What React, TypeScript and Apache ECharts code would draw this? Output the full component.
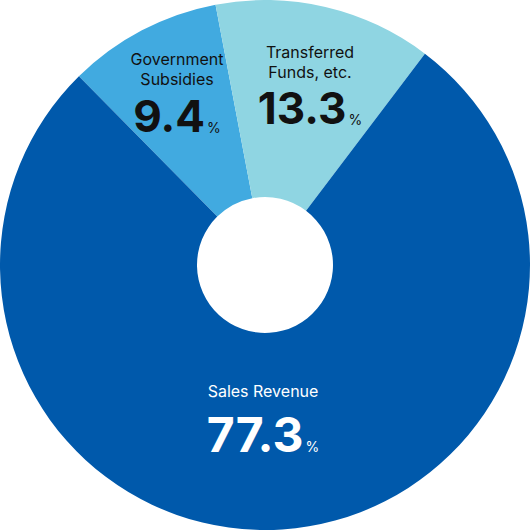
import React, { useEffect, useRef } from "react";
import * as echarts from "echarts";

// Revenue composition (%)
const categories = ["Government\nSubsidies", "Transferred\nFunds, etc.", "Sales Revenue"];
const shares = [9.4, 13.3, 77.3];
const sliceColors = ["#41aae0", "#8fd5e2", "#0059ab"];

// Centre of each label block, in chart pixels
const labelCenters: [number, number][] = [
  [177, 96],
  [310, 88],
  [263, 424],
];

export default function App() {
  const ref = useRef<HTMLDivElement>(null);

  useEffect(() => {
    if (!ref.current) return;
    const chart = echarts.init(ref.current, undefined, { renderer: "svg" });

    const data = categories.map((name, i) => {
      const isMain = i === 2;
      const nameStyle = {
        fontFamily: "Inter",
        fontSize: 16,
        lineHeight: 20,
        color: isMain ? "#ffffff" : "#111111",
      };
      return {
        name,
        value: shares[i],
        itemStyle: { color: sliceColors[i] },
        label: {
          rich: {
            n: nameStyle,
            v: {
              fontFamily: "Inter",
              fontWeight: 700,
              fontSize: isMain ? 48 : 44,
              lineHeight: isMain ? 66 : i === 1 ? 52 : 54,
              color: isMain ? "#ffffff" : "#111111",
            },
            p: {
              fontFamily: "Inter",
              fontSize: 14,
              color: isMain ? "#ffffff" : "#111111",
              padding: [isMain ? 24 : 22, 0, 0, 2],
            },
          },
        },
      };
    });

    chart.setOption({
      animation: false,
      series: [
        {
          type: "pie",
          center: ["50%", "50%"],
          radius: [68, 265],
          startAngle: 134.6,
          clockwise: true,
          silent: true,
          data,
          label: {
            show: true,
            position: "inside",
            formatter: (p: any) =>
              String(p.name)
                .split("\n")
                .map((s: string) => `{n|${s}}`)
                .join("\n") + `\n{v|${p.value}}{p|%}`,
          },
          labelLine: { show: false },
          labelLayout: (params: any) => {
            const c = labelCenters[params.dataIndex];
            return { x: c[0], y: c[1], align: "center", verticalAlign: "middle" };
          },
          emphasis: { disabled: true },
        },
      ],
    });

    return () => chart.dispose();
  }, []);

  return (
    <div
      ref={ref}
      style={{ position: "fixed", left: 0, top: 0, width: 530, height: 530, background: "#ffffff" }}
    />
  );
}
